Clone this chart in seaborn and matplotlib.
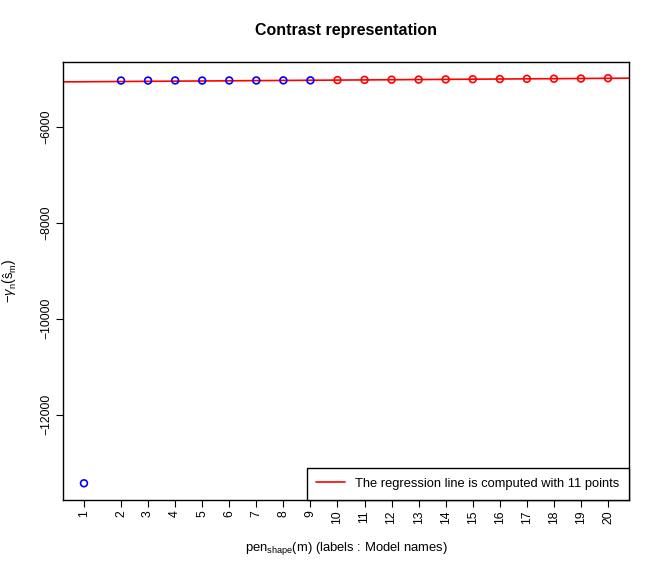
import numpy as np
import pandas as pd
import matplotlib
matplotlib.use("Agg")
import matplotlib.pyplot as plt
import seaborn as sns

# Model names and their penalty shape values (x positions)
model_names = [str(i) for i in range(1, 21)]
pen_shape = [0.63, 2, 3, 4, 5, 6, 7, 8, 9, 10, 11, 12, 13, 14, 15, 16, 17, 18, 19, 20]
# Contrast values (-gamma_n)
contrast = [-13430, -5036, -5036, -5034, -5036, -5034, -5034, -5032, -5032, -5026,
            -5022, -5018, -5016, -5012, -5008, -5004, -5000, -4998, -4994, -4987]
# Points 10..20 are used for the regression
n_reg = 11

sns.set_style("white")
plt.rcParams['font.family'] = ['Liberation Sans', 'DejaVu Sans']
plt.rcParams['mathtext.fontset'] = 'custom'
plt.rcParams['mathtext.rm'] = 'Liberation Sans'
plt.rcParams['mathtext.it'] = 'Liberation Sans:italic'
plt.rcParams['text.color'] = 'black'
plt.rcParams['axes.labelcolor'] = 'black'

df = pd.DataFrame({"pen": pen_shape, "contrast": contrast, "model": model_names})
df_blue = df.iloc[:-n_reg]
df_red = df.iloc[-n_reg:]

fig = plt.figure(figsize=(6.58, 5.78), dpi=100)
ax = fig.add_axes([63 / 658, 1 - 499.5 / 578, 566 / 658, 437.5 / 578])

sns.scatterplot(data=df_blue, x="pen", y="contrast", ax=ax, color="blue",
                facecolors="none", edgecolor="blue", linewidth=1.2, s=24, marker="o", zorder=3)
sns.scatterplot(data=df_red, x="pen", y="contrast", ax=ax, color="red",
                facecolors="none", edgecolor="red", linewidth=1.2, s=24, marker="o", zorder=3)

# Regression line over the last 11 points
slope, intercept = np.polyfit(df_red["pen"], df_red["contrast"], 1)
ax.axline((0, intercept), slope=slope, color="red", linewidth=1.2,
          label="The regression line is computed with 11 points", zorder=2)

# R-like 4% axis extension
xr = max(pen_shape) - min(pen_shape)
yr = max(contrast) - min(contrast)
ax.set_xlim(min(pen_shape) - 0.04 * xr, max(pen_shape) + 0.04 * xr)
ax.set_ylim(min(contrast) - 0.04 * yr, max(contrast) + 0.04 * yr)

ax.set_xticks(pen_shape)
ax.set_xticklabels(model_names, rotation=90, fontsize=8.8)
ax.set_yticks([-12000, -10000, -8000, -6000])
ax.set_yticklabels(["\u221212000", "\u221210000", "\u22128000", "\u22126000"],
                   rotation=90, va="center", fontsize=8.8)
ax.tick_params(axis="both", direction="out", length=5, width=0.8, pad=3, colors="black")
ax.tick_params(axis="both", which="both", bottom=True, left=True)

for sp in ax.spines.values():
    sp.set_color("black")
    sp.set_linewidth(1.0)

ax.set_xlabel(r"pen$_{\mathrm{shape}}$(m) (labels : Model names)", fontsize=9.4, va="center")
ax.xaxis.set_label_coords(0.5, -49 / 437.5)
ax.set_ylabel(r"$-\gamma_{\mathrm{n}}\left(\hat{\mathrm{s}}_{\mathrm{m}}\right)$", fontsize=9.4, va="center")
ax.yaxis.set_label_coords(-53 / 566, 0.5)

fig.text(346 / 658, 1 - 31 / 578, "Contrast representation", ha="center", va="center",
         fontsize=11.5, fontweight="bold")

leg = ax.legend(loc="lower right", borderaxespad=0, fancybox=False, framealpha=1,
                edgecolor="black", fontsize=9.3, handlelength=2.2, borderpad=0.75)
leg.get_frame().set_linewidth(1.0)

fig.savefig("out.png", dpi=100)
